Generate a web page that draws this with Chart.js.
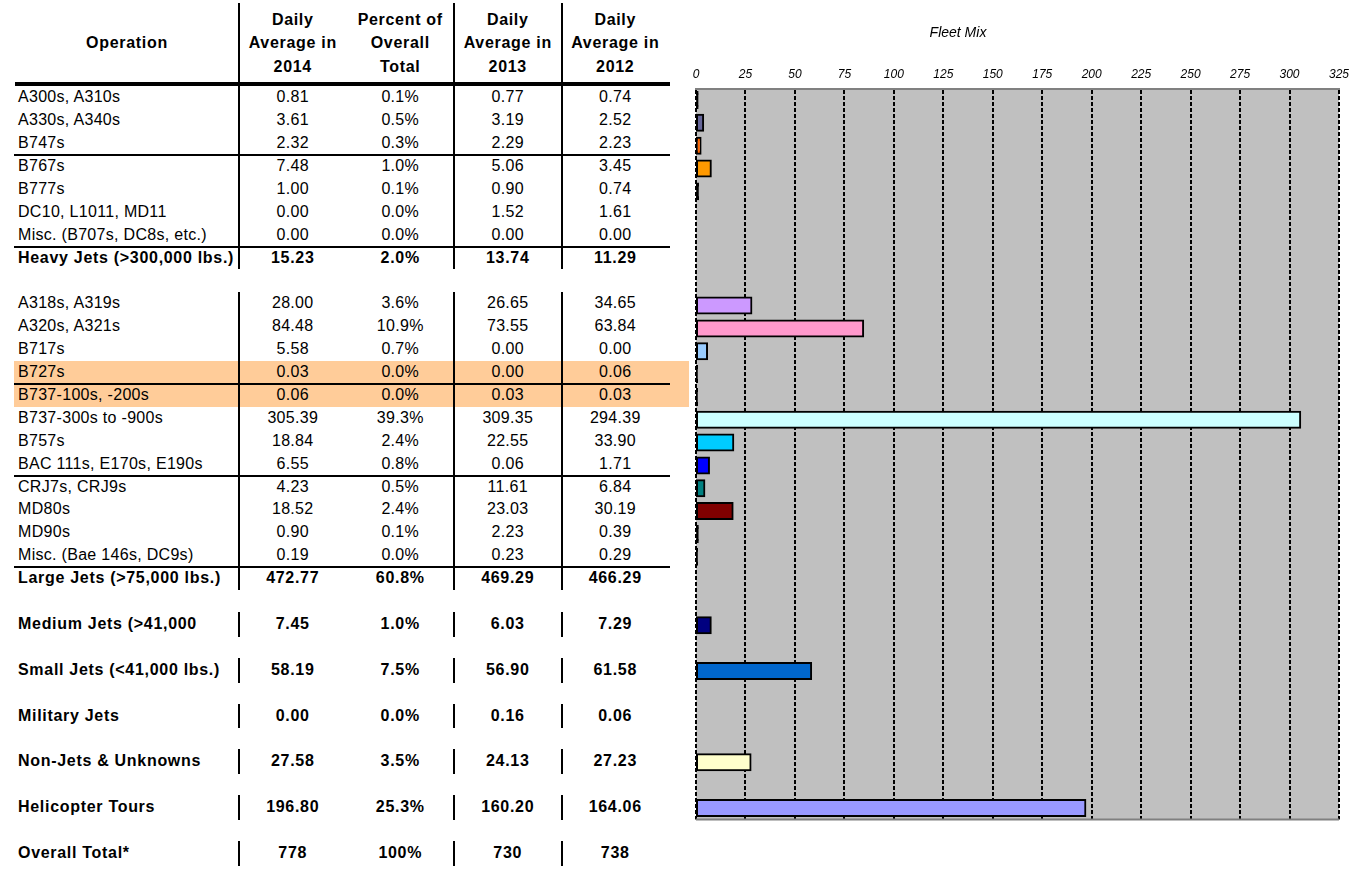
<!DOCTYPE html>
<html>
<head>
<meta charset="utf-8">
<script src="https://cdn.jsdelivr.net/npm/chart.js@4/dist/chart.umd.min.js"></script>
<style>
  html, body { margin: 0; padding: 0; background: #fff; }
  body { width: 1356px; height: 888px; position: relative; overflow: hidden; font-family: "Liberation Sans", Arial, sans-serif; color: #000; }
  .t { position: absolute; white-space: nowrap; font-size: 16px; letter-spacing: 0.3px; }
  .b { font-weight: bold; letter-spacing: 0.7px; }
  .ln { position: absolute; background: #000; }
  #chartWrap { position: absolute; left: 574px; top: 0; width: 782px; height: 888px; }
</style>
</head>
<body>
<div id="table"></div>
<div id="chartWrap"><canvas id="c" width="782" height="888"></canvas></div>
<script>
// ---------- DATA ----------
const operations = ['A300s, A310s','A330s, A340s','B747s','B767s','B777s','DC10, L1011, MD11','Misc. (B707s, DC8s, etc.)','Heavy Jets (>300,000 lbs.)','',
  'A318s, A319s','A320s, A321s','B717s','B727s','B737-100s, -200s','B737-300s to -900s','B757s','BAC 111s, E170s, E190s','CRJ7s, CRJ9s','MD80s','MD90s','Misc. (Bae 146s, DC9s)','Large Jets (>75,000 lbs.)','',
  'Medium Jets (>41,000','','Small Jets (<41,000 lbs.)','','Military Jets','','Non-Jets & Unknowns','','Helicopter Tours','','Overall Total*'];
const avg2014 = ['0.81','3.61','2.32','7.48','1.00','0.00','0.00','15.23','',
  '28.00','84.48','5.58','0.03','0.06','305.39','18.84','6.55','4.23','18.52','0.90','0.19','472.77','',
  '7.45','','58.19','','0.00','','27.58','','196.80','','778'];
const pctOfTotal = ['0.1%','0.5%','0.3%','1.0%','0.1%','0.0%','0.0%','2.0%','',
  '3.6%','10.9%','0.7%','0.0%','0.0%','39.3%','2.4%','0.8%','0.5%','2.4%','0.1%','0.0%','60.8%','',
  '1.0%','','7.5%','','0.0%','','3.5%','','25.3%','','100%'];
const avg2013 = ['0.77','3.19','2.29','5.06','0.90','1.52','0.00','13.74','',
  '26.65','73.55','0.00','0.00','0.03','309.35','22.55','0.06','11.61','23.03','2.23','0.23','469.29','',
  '6.03','','56.90','','0.16','','24.13','','160.20','','730'];
const avg2012 = ['0.74','2.52','2.23','3.45','0.74','1.61','0.00','11.29','',
  '34.65','63.84','0.00','0.06','0.03','294.39','33.90','1.71','6.84','30.19','0.39','0.29','466.29','',
  '7.29','','61.58','','0.06','','27.23','','164.06','','738'];
const headers = [['Operation'], ['Daily','Average in','2014'], ['Percent of','Overall','Total'], ['Daily','Average in','2013'], ['Daily','Average in','2012']];

// chart categories and the 2014 fleet mix values (null = no bar)
const categories = operations.slice(0, 32);
const fleetMix2014 = [0.81,3.61,2.32,7.48,1.00,0.00,0.00,null,null,
  28.00,84.48,5.58,0.03,0.06,305.39,18.84,6.55,4.23,18.52,0.90,0.19,null,null,
  7.45,null,58.19,null,0.00,null,27.58,null,196.80];
const barColors = ['#000000','#666699','#FF6600','#FF9900','#000000','#808080','#808080','#000','#000',
  '#CC99FF','#FF99CC','#99CCFF','#000000','#000000','#CCFFFF','#00CCFF','#0000FF','#008080','#800000','#000000','#000000','#000','#000',
  '#000080','#000','#0066CC','#000','#808080','#000','#FFFFCC','#000','#9999FF'];
const xTickMax = 325, xTickStep = 25;

// ---------- TABLE ----------
const boldRows = [7,21,23,25,27,29,31,33];
const groupRows = [23,25,27,29,31,33];
const highlightRows = [12,13];
const thinLineAfter = [2,6,12,16,20];
const ROW0 = 97.7, RH = 22.9;
const colEdges = [15,239,346.5,454,561.5,669];
const vLines = [239,454,562];
const tbl = document.getElementById('table');
function add(cls, style, text) {
  const d = document.createElement('div');
  d.className = cls;
  Object.assign(d.style, style);
  if (text !== undefined) d.textContent = text;
  tbl.appendChild(d);
  return d;
}
const rowTop = i => ROW0 + i*RH - RH/2;
highlightRows.forEach(i => add('ln', {left:'14px', top: rowTop(i)+'px', width:(689-14)+'px', height: RH+'px', background:'#FFCC99'}));
headers.forEach((h, c) => {
  const x0 = colEdges[c], x1 = colEdges[c+1];
  const ys = h.length === 1 ? [43] : [20, 43.3, 66.6];
  h.forEach((s, k) => {
    add('t b', {left: x0+'px', width:(x1-x0)+'px', textAlign:'center', top:(ys[k]-11)+'px', lineHeight:'22px'}, s);
  });
});
const cols = [operations, avg2014, pctOfTotal, avg2013, avg2012];
operations.forEach((op, i) => {
  const bold = boldRows.includes(i);
  const top = rowTop(i);
  cols.forEach((arr, c) => {
    const v = arr[i];
    if (!v) return;
    if (c === 0) add('t' + (bold ? ' b' : ''), {left:'18px', top: top+'px', lineHeight: RH+'px'}, v);
    else add('t' + (bold ? ' b' : ''), {left: colEdges[c]+'px', width:(colEdges[c+1]-colEdges[c])+'px', textAlign:'center', top: top+'px', lineHeight: RH+'px'}, v);
  });
});
add('ln', {left:'15px', top:'82px', width:(670-15)+'px', height:'4px'});
thinLineAfter.forEach(i => add('ln', {left:'14px', top:(rowTop(i+1)-1)+'px', width:(670-14)+'px', height:'2px'}));
vLines.forEach(x => {
  add('ln', {left:(x-1)+'px', top:'3px', width:'2px', height:(rowTop(8)-3)+'px'});
  add('ln', {left:(x-1)+'px', top:rowTop(9)+'px', width:'2px', height:(rowTop(22)-rowTop(9))+'px'});
  groupRows.forEach(i => add('ln', {left:(x-1)+'px', top:(rowTop(i)-1)+'px', width:'2px', height:(RH+2)+'px'}));
});

// ---------- CHART ----------
const plotDecor = {
  id: 'plotDecor',
  beforeDraw(chart) {
    const {ctx, chartArea: a} = chart;
    ctx.save();
    ctx.fillStyle = '#C0C0C0';
    ctx.fillRect(a.left, a.top, a.right - a.left, a.bottom - a.top);
    ctx.restore();
  },
  afterDraw(chart) {
    const {ctx, chartArea: a} = chart;
    ctx.save();
    ctx.strokeStyle = '#808080';
    ctx.lineWidth = 2;
    ctx.beginPath();
    ctx.moveTo(a.left, a.bottom);
    ctx.lineTo(a.right, a.bottom);
    ctx.stroke();
    ctx.restore();
  }
};
new Chart(document.getElementById('c'), {
  type: 'bar',
  data: {
    labels: categories,
    datasets: [{
      data: fleetMix2014,
      backgroundColor: barColors,
      borderColor: '#000',
      borderWidth: c => (c.raw === 0 ? 0 : 2),
      inflateAmount: c => (c.raw === 0 ? 0 : 1),
      borderSkipped: false,
      barPercentage: 0.7,
      categoryPercentage: 1
    }]
  },
  options: {
    indexAxis: 'y',
    responsive: false,
    animation: false,
    layout: { padding: { left: 0, right: 14, top: 0, bottom: 68.6 } },
    plugins: {
      legend: { display: false },
      tooltip: { enabled: false },
      title: {
        display: true,
        text: 'Fleet Mix',
        color: '#000',
        font: { family: 'Liberation Sans', size: 14, style: 'italic', weight: 'normal' },
        padding: { top: 24.6, bottom: 10 }
      }
    },
    scales: {
      x: {
        position: 'top',
        min: 0,
        max: xTickMax,
        ticks: { stepSize: xTickStep, color: '#000', padding: 7, font: { family: 'Liberation Sans', size: 12, style: 'italic' } },
        grid: { color: '#000', lineWidth: 2, drawTicks: false },
        border: { color: '#808080', width: 2, dash: [4, 2] },
        afterFit(scale) { scale.height = 37.2; }
      },
      y: {
        ticks: { display: false },
        grid: { display: false },
        border: { display: false },
        afterFit(scale) { scale.width = 122; }
      }
    }
  },
  plugins: [plotDecor]
});
</script>
</body>
</html>
